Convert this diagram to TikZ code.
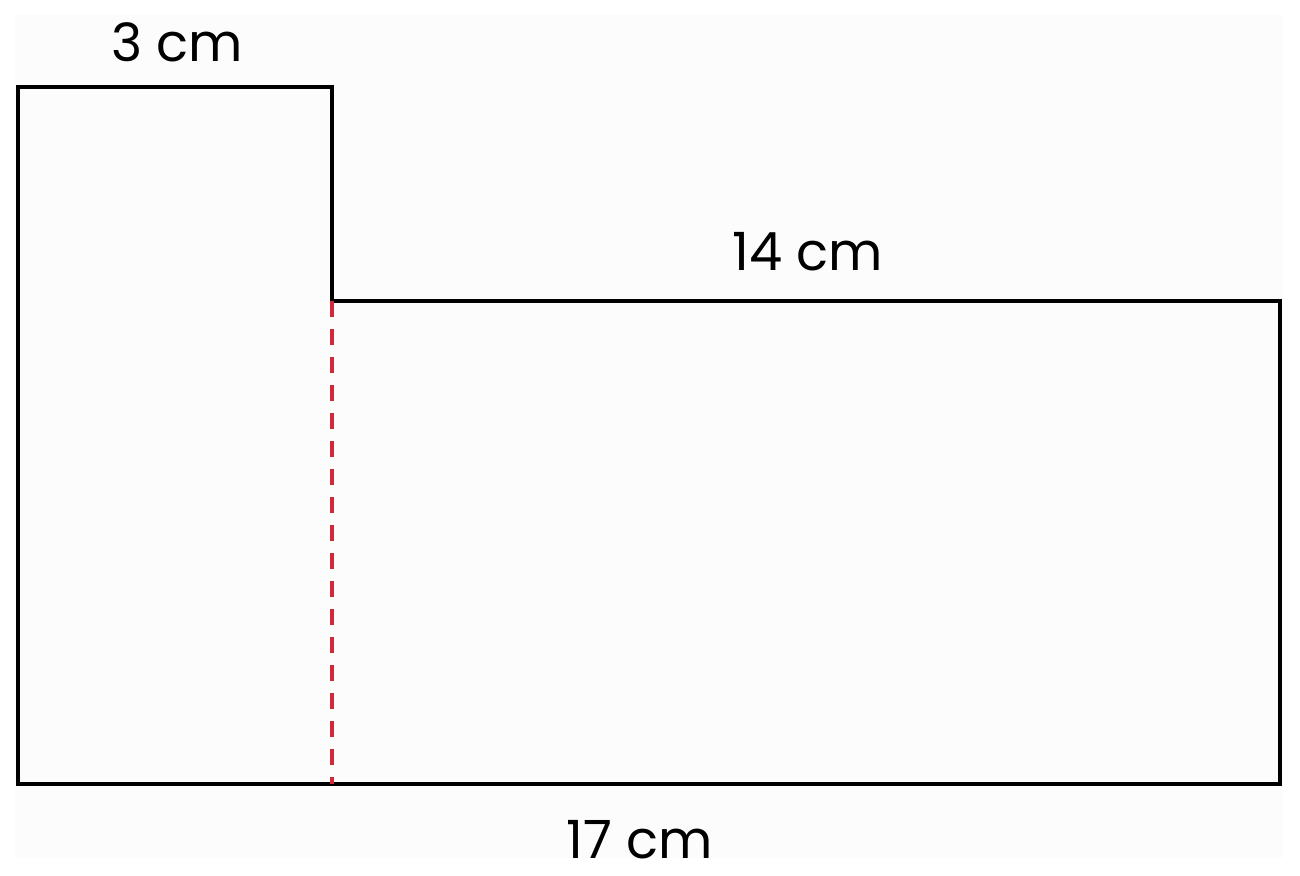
\documentclass[tikz,border=0pt]{standalone}
\usepackage{fontspec}
\setmainfont{Poppins}
\usepackage{xcolor}
\definecolor{cutred}{HTML}{D02A3A}
\definecolor{paper}{HTML}{FCFCFC}

\begin{document}
\begin{tikzpicture}[x=0.01cm,y=-0.01cm,
  edge/.style={draw=black,line width=0.9pt,line join=miter},
  cutline/.style={draw=cutred,line width=0.9pt,dash pattern=on 0.16cm off 0.12cm},
  dim/.style={font=\fontsize{15}{18}\selectfont,inner sep=0pt}]
\useasboundingbox (0,0) rectangle (1300,876);
\fill [paper] (15,15) rectangle (1283,858);

% corners of the outline
\coordinate (tl) at (18,87);
\coordinate (tm) at (332,87);
\coordinate (step) at (332,301);
\coordinate (tr) at (1280,301);
\coordinate (br) at (1280,784);
\coordinate (bm) at (332,784);
\coordinate (bl) at (18,784);

\draw [edge] (tl) -- (tm) -- (step) -- (tr) -- (br) -- (bl) -- cycle;
\draw [cutline] (step) -- (bm);

\node [dim] (top) at (177,42) {3 cm};
\node [dim] (mid) at (808,252) {14 cm};
\node [dim] (base) at (640,840) {17 cm};
\end{tikzpicture}
\end{document}
